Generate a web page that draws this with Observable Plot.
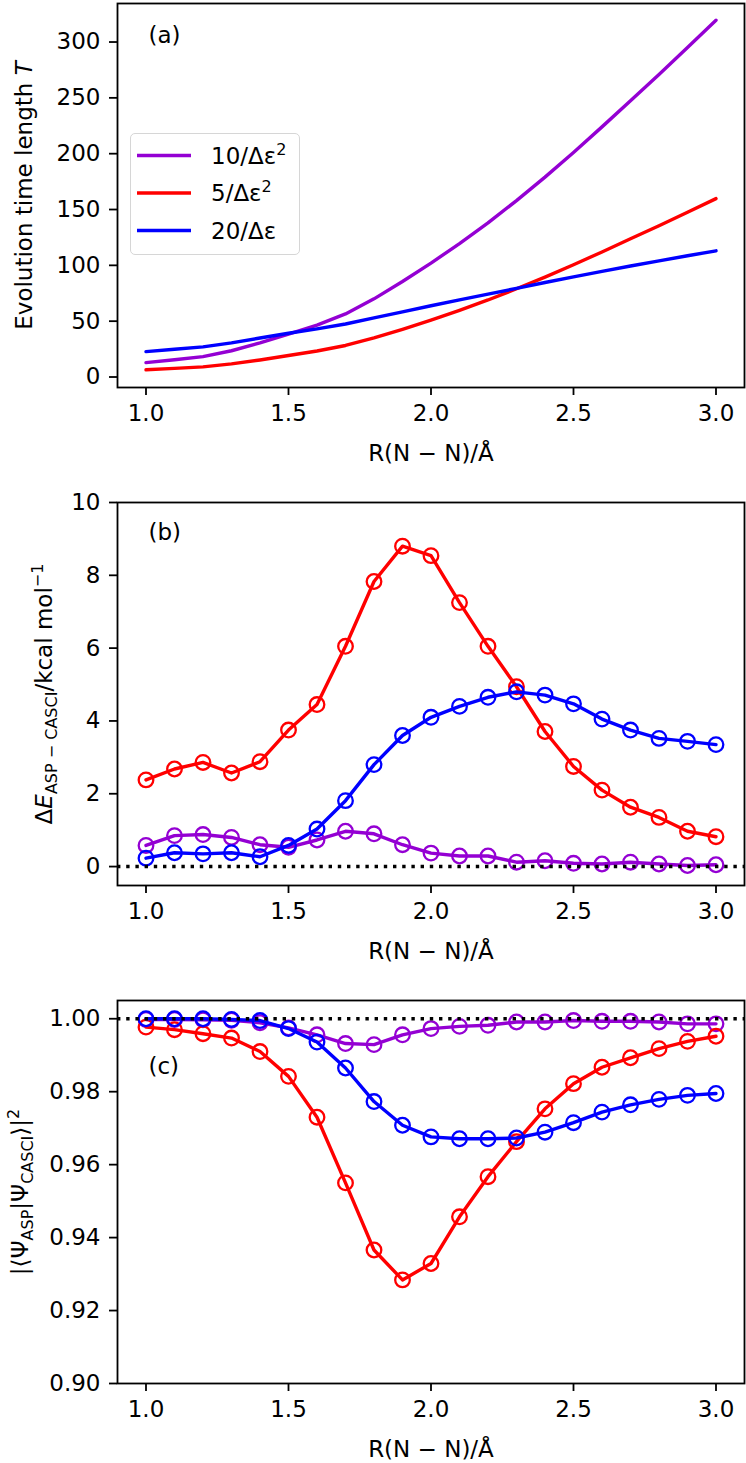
<!DOCTYPE html>
<html><head><meta charset="utf-8">
<script src="https://cdn.jsdelivr.net/npm/d3@7"></script>
<script src="https://cdn.jsdelivr.net/npm/@observablehq/plot@0.6"></script>
<style>
body{margin:0;background:#fff;font-family:"DejaVu Sans",sans-serif;}
#wrap{position:relative;width:746px;}
#wrap svg{display:block;}
.legend{position:absolute;left:130px;top:133px;width:168px;height:120px;border:1.5px solid #d6d6d6;border-radius:5px;background:rgba(255,255,255,0.8);}
</style></head><body><div id="wrap"></div>
<script>
// ---- data ----
const R = [1.0,1.1,1.2,1.3,1.4,1.5,1.6,1.7,1.8,1.9,2.0,2.1,2.2,2.3,2.4,2.5,2.6,2.7,2.8,2.9,3.0];
const seriesNames = ["10/Δε²","5/Δε²","20/Δε"];
const seriesColors = ["#9400d3","#ff0000","#0000ff"];

// (a) evolution time length T
const T10 = [12.9,15.5,18.2,23.5,30.5,38.5,46.5,56.5,70,85.5,102,119.5,138,158,179,201,224,247.5,271,295,319.5];
const T5  = [6.45,7.75,9.1,11.75,15.25,19.25,23.25,28.25,35,42.75,51,59.75,69,79,89.5,100.5,112,123.75,135.5,147.5,159.75];
const T20 = [22.7,24.9,27.0,30.6,34.9,39.2,43.1,47.5,52.9,58.4,63.8,69.1,74.2,79.4,84.6,89.6,94.6,99.4,104,108.6,113];

// (b) energy error, kcal/mol
const dE10 = [0.58,0.85,0.88,0.80,0.60,0.53,0.73,0.97,0.90,0.60,0.37,0.29,0.29,0.12,0.16,0.09,0.07,0.12,0.07,0.03,0.05];
const dE5  = [2.38,2.68,2.86,2.57,2.88,3.75,4.45,6.05,7.83,8.80,8.54,7.25,6.05,4.94,3.71,2.75,2.10,1.63,1.35,0.97,0.82];
const dE20 = [0.23,0.38,0.35,0.38,0.27,0.58,1.03,1.81,2.80,3.60,4.10,4.40,4.65,4.80,4.71,4.47,4.05,3.75,3.52,3.44,3.35];

// (c) overlap
const ov10 = [0.9998,0.9998,0.9997,0.9996,0.9989,0.9975,0.9956,0.9932,0.9929,0.9956,0.9973,0.9979,0.9982,0.9991,0.9991,0.9995,0.9993,0.9993,0.9991,0.9986,0.9986];
const ov5  = [0.9977,0.9970,0.9959,0.9947,0.9910,0.9842,0.9730,0.9550,0.9366,0.9284,0.9329,0.9457,0.9567,0.9663,0.9753,0.9822,0.9867,0.9893,0.9918,0.9938,0.9952];
const ov20 = [1.0000,1.0000,1.0000,0.9998,0.9995,0.9973,0.9936,0.9865,0.9773,0.9708,0.9676,0.9671,0.9671,0.9673,0.9689,0.9715,0.9744,0.9764,0.9779,0.9790,0.9795];

const xTicks = [1.0,1.5,2.0,2.5,3.0];
const yTicksA = [0,50,100,150,200,250,300];
const yTicksB = [0,2,4,6,8,10];
const yTicksC = [0.90,0.92,0.94,0.96,0.98,1.00];
const xTitle = "R(N − N)/Å";
const yTitleA = "Evolution time length T";
const yTitleB = "ΔE ASP − CASCI /kcal mol −1";
const yTitleC = "|⟨Ψ ASP |Ψ CASCI ⟩| 2";
const panelLabels = ["(a)","(b)","(c)"];

function rows(arrs){
  const out = [];
  arrs.forEach((vals, k) => vals.forEach((v, i) => out.push({R: R[i], v, s: seriesNames[k]})));
  return out;
}
const dataA = rows([T10, T5, T20]);
const dataB = rows([dE10, dE5, dE20]);
const dataC = rows([ov10, ov5, ov20]);

const FS = 23;
const common = {
  width: 746, marginLeft: 117, marginRight: 2,
  style: {fontFamily: "DejaVu Sans", fontSize: FS + "px", color: "black", background: "white", overflow: "visible"},
  x: {domain: [0.9, 3.1]},
  color: {domain: seriesNames, range: seriesColors}
};
function axes(yTicks, yFmt, yTitle, yDx, label, labelDy){
  return [
    Plot.frame({stroke: "black", strokeWidth: 1.8}),
    Plot.axisX({ticks: xTicks, tickFormat: d3.format(".1f"), tickSize: 8, tickPadding: 9, fontSize: FS, label: null, strokeWidth: 1.8}),
    Plot.axisY({ticks: yTicks, tickFormat: yFmt, tickSize: 8, tickPadding: 9, fontSize: FS, label: null, strokeWidth: 1.8}),
    Plot.text([xTitle], {text: d => d, frameAnchor: "bottom", dy: 66, lineAnchor: "middle", fontSize: FS}),
    Plot.text([yTitle], {text: d => d, frameAnchor: "left", dx: yDx, rotate: -90, textAnchor: "middle", lineAnchor: "middle", fontSize: FS}),
    Plot.text([label], {text: d => d, frameAnchor: "top-left", dx: 31, dy: labelDy, textAnchor: "start", lineAnchor: "middle", fontSize: FS})
  ];
}
function seriesMarks(data){
  const marks = [];
  seriesNames.forEach(name => {
    const d = data.filter(r => r.s === name);
    marks.push(Plot.line(d, {x: "R", y: "v", stroke: "s", strokeWidth: 3.4}));
    marks.push(Plot.dot(d, {x: "R", y: "v", stroke: "s", r: 7.3, strokeWidth: 2.3, fill: "none"}));
  });
  return marks;
}

const wrap = document.getElementById("wrap");

// Panel (a)
const pa = Plot.plot({
  ...common, height: 486, marginTop: 3, marginBottom: 99,
  y: {domain: [-9.4, 334.5]},
  marks: [
    Plot.line(dataA, {x: "R", y: "v", stroke: "s", z: "s", strokeWidth: 3.4}),
    ...axes(yTicksA, d3.format("d"), yTitleA, -93, panelLabels[0], 32)
  ]
});
wrap.appendChild(pa);

// Panel (b)
const pb = Plot.plot({
  ...common, height: 498, marginTop: 16, marginBottom: 99,
  y: {domain: [-0.52, 10]},
  marks: [
    ...seriesMarks(dataB),
    Plot.ruleY([0], {stroke: "black", strokeWidth: 3.4, strokeDasharray: "3.4,5.8"}),
    ...axes(yTicksB, d3.format("d"), yTitleB, -73, panelLabels[1], 30)
  ]
});
wrap.appendChild(pb);

// Panel (c)
const pc = Plot.plot({
  ...common, height: 479, marginTop: 16, marginBottom: 80,
  y: {domain: [0.90, 1.005]},
  marks: [
    ...seriesMarks(dataC),
    Plot.ruleY([1.0], {stroke: "black", strokeWidth: 3.4, strokeDasharray: "3.4,5.8"}),
    ...axes(yTicksC, d3.format(".2f"), yTitleC, -97, panelLabels[2], 66)
  ]
});
wrap.appendChild(pc);

// rich text for axis titles (italic, subscripts, superscripts)
function richify(svg, plain, segs){
  svg.querySelectorAll("text").forEach(t => {
    if (t.textContent !== plain) return;
    while (t.firstChild) t.removeChild(t.firstChild);
    let shift = 0;
    segs.forEach(sg => {
      const ts = document.createElementNS("http://www.w3.org/2000/svg", "tspan");
      ts.textContent = sg.t;
      let target = sg.sub ? 5 : sg.sup ? -9 : 0;
      if (target !== shift) { ts.setAttribute("dy", target - shift); shift = target; }
      if (sg.sub || sg.sup) ts.setAttribute("font-size", "16");
      if (sg.it) ts.setAttribute("font-style", "italic");
      t.appendChild(ts);
    });
  });
}
richify(pa, yTitleA, [{t: "Evolution time length "}, {t: "T", it: true}]);
richify(pb, yTitleB, [{t: "Δ"}, {t: "E", it: true}, {t: "ASP − CASCI", sub: true}, {t: "/kcal mol"}, {t: "−1", sup: true}]);
richify(pc, yTitleC, [{t: "|⟨Ψ"}, {t: "ASP", sub: true}, {t: "|Ψ"}, {t: "CASCI", sub: true}, {t: "⟩|"}, {t: "2", sup: true}]);

// legend for panel (a)
const leg = document.createElement("div");
leg.className = "legend";
const ns = "http://www.w3.org/2000/svg";
const ls = document.createElementNS(ns, "svg");
ls.setAttribute("width", 168); ls.setAttribute("height", 120);
seriesNames.forEach((name, i) => {
  const y = 21.5 + i * 37.5;
  const ln = document.createElementNS(ns, "line");
  ln.setAttribute("x1", 6); ln.setAttribute("x2", 60);
  ln.setAttribute("y1", y); ln.setAttribute("y2", y);
  ln.setAttribute("stroke", seriesColors[i]); ln.setAttribute("stroke-width", 3.4);
  ls.appendChild(ln);
  const tx = document.createElementNS(ns, "text");
  tx.setAttribute("x", 80); tx.setAttribute("y", y + 8);
  tx.setAttribute("font-family", "DejaVu Sans"); tx.setAttribute("font-size", FS);
  const m = name.match(/^(.*?)(²?)$/);
  const base = document.createElementNS(ns, "tspan"); base.textContent = m[1]; tx.appendChild(base);
  if (m[2]) {
    const sp = document.createElementNS(ns, "tspan");
    sp.textContent = "2"; sp.setAttribute("dy", -9); sp.setAttribute("font-size", 16);
    tx.appendChild(sp);
  }
  ls.appendChild(tx);
});
leg.appendChild(ls);
wrap.appendChild(leg);
</script>
</body></html>
